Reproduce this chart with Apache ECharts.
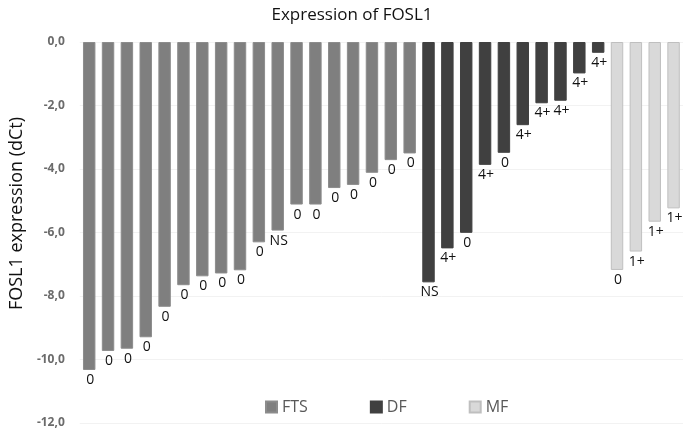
<!DOCTYPE html>
<html>
<head>
<meta charset="utf-8">
<script src="https://cdn.jsdelivr.net/npm/echarts@6/dist/echarts.min.js"></script>
<style>
html,body{margin:0;padding:0;background:#fff;}
#chart{width:685px;height:436px;}
</style>
</head>
<body>
<div id="chart"></div>
<script>
// ---- data ----
const seriesNames = ['FTS', 'DF', 'MF'];
const ftsValues = [-10.33, -9.73, -9.66, -9.30, -8.34, -7.66, -7.38, -7.29, -7.19, -6.31, -5.94, -5.12, -5.12, -4.60, -4.50, -4.12, -3.72, -3.51];
const ftsLabels = ['0', '0', '0', '0', '0', '0', '0', '0', '0', '0', 'NS', '0', '0', '0', '0', '0', '0', '0'];
const dfValues = [-7.57, -6.50, -6.01, -3.87, -3.49, -2.62, -1.93, -1.85, -0.99, -0.34];
const dfLabels = ['NS', '4+', '0', '4+', '0', '4+', '4+', '4+', '4+', '4+'];
const mfValues = [-7.18, -6.60, -5.66, -5.24];
const mfLabels = ['0', '1+', '1+', '1+'];
const yTicks = [0, -2, -4, -6, -8, -10, -12];
const yTickLabels = ['0,0', '-2,0', '-4,0', '-6,0', '-8,0', '-10,0', '-12,0'];

// ---- build ----
const total = ftsValues.length + dfValues.length + mfValues.length;
const categories = [];
for (let i = 0; i < total; i++) categories.push('S' + (i + 1));

function pad(values, labels, offset) {
  const arr = new Array(total).fill('-');
  values.forEach((v, i) => {
    arr[offset + i] = { value: v, labelText: labels[i] };
  });
  return arr;
}
const groups = [
  { name: seriesNames[0], data: pad(ftsValues, ftsLabels, 0), color: '#7f7f7f', border: '#8c8c8c' },
  { name: seriesNames[1], data: pad(dfValues, dfLabels, ftsValues.length), color: '#404040', border: '#404040' },
  { name: seriesNames[2], data: pad(mfValues, mfLabels, ftsValues.length + dfValues.length), color: '#d9d9d9', border: '#bfbfbf' }
];

const chart = echarts.init(document.getElementById('chart'), null, { renderer: 'canvas' });
chart.setOption({
  animation: false,
  backgroundColor: '#ffffff',
  title: {
    text: 'Expression of FOSL1',
    top: 2,
    left: 347,
    textAlign: 'center',
    textStyle: { fontFamily: 'Open Sans', fontSize: 17, fontWeight: 'normal', color: '#111' }
  },
  legend: {
    data: seriesNames,
    left: 260,
    top: 394,
    itemGap: 62,
    itemWidth: 11,
    itemHeight: 11,
    icon: 'rect',
    textStyle: { fontFamily: 'Open Sans', fontSize: 16, color: '#595959' }
  },
  grid: { left: 76, right: 2, top: 42, bottom: 13, containLabel: false },
  xAxis: {
    type: 'category',
    data: categories,
    axisLine: { show: false },
    axisTick: { show: false },
    axisLabel: { show: false },
    splitLine: { show: false }
  },
  yAxis: {
    type: 'value',
    min: -12,
    max: 0,
    interval: 2,
    name: 'FOSL1 expression (dCt)',
    nameLocation: 'middle',
    nameGap: 50,
    nameTextStyle: { fontFamily: 'Open Sans', fontSize: 18, color: '#111', padding: [0, 0, 0, 38] },
    axisLine: { show: false },
    axisTick: { show: false },
    axisLabel: {
      margin: 15,
      fontFamily: 'Open Sans',
      fontSize: 12,
      fontWeight: 'bold',
      color: '#6b6b6b',
      formatter: function (v) {
        const i = yTicks.indexOf(v);
        return i >= 0 ? yTickLabels[i] : '';
      }
    },
    splitLine: { show: true, lineStyle: { color: '#f2f2f2', width: 1 } }
  },
  series: groups.map(g => ({
    name: g.name,
    type: 'bar',
    data: g.data,
    barGap: '-100%',
    barCategoryGap: '34%',
    itemStyle: { color: g.color, borderColor: g.border, borderWidth: 1 },
    label: {
      show: true,
      position: 'bottom',
      distance: 3,
      offset: [1, 0],
      fontFamily: 'Open Sans',
      fontSize: 14,
      color: '#111',
      formatter: function (p) { return p.data.labelText; }
    }
  }))
});
</script>
</body>
</html>
